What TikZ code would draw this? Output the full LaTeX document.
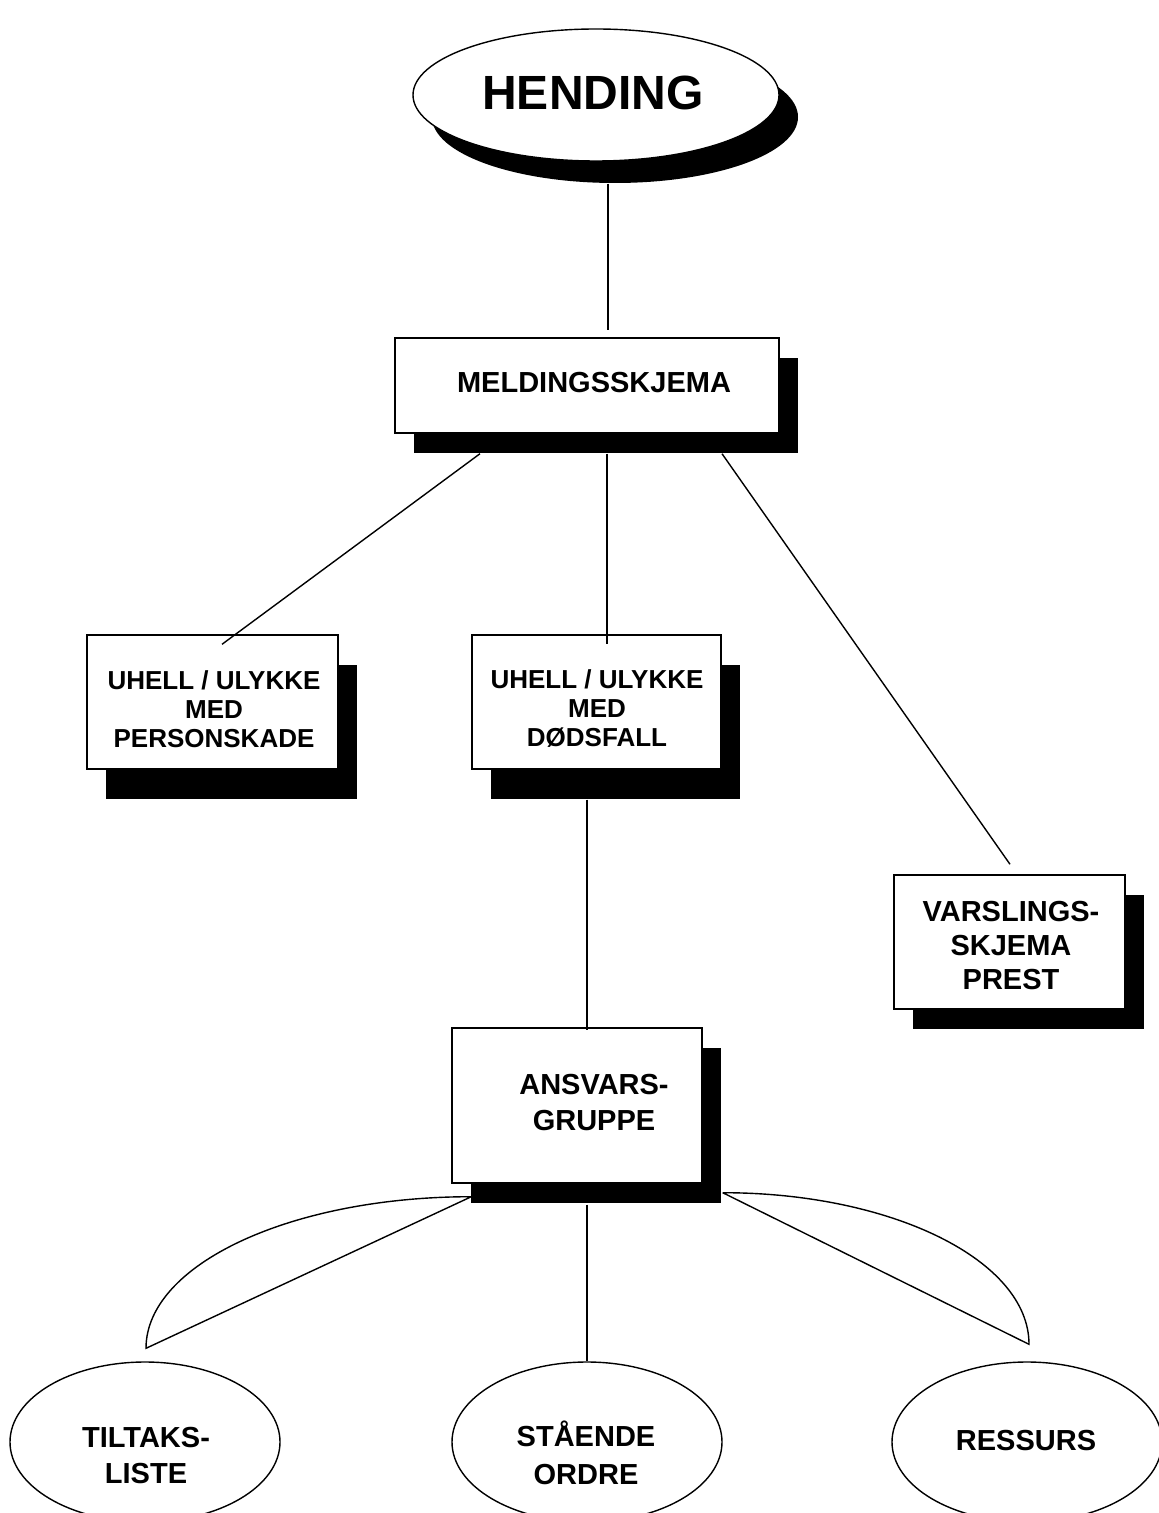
\documentclass[tikz,border=0pt]{standalone}
\usepackage{fontspec}
\setmainfont{Liberation Sans}
\usetikzlibrary{shapes.geometric,shadows,calc}
\tikzset{
  every picture/.style={line width=0.7pt},
  sh/.style={drop shadow={shadow xshift=9.5pt,shadow yshift=-#1,fill=black,opacity=1}},
  box/.style={rectangle,draw,fill=white,inner sep=0pt},
  hd/.style={ellipse,draw,fill=white,inner sep=0pt,minimum width=183pt,minimum height=66pt},
  bub/.style={ellipse,draw,fill=white,inner sep=0pt,minimum width=135pt,minimum height=80pt},
  tx/.style={align=center,inner sep=0pt,font=\bfseries\fontsize{14.5}{#1}\selectfont},
  tx/.default=17.5pt,
  sm/.style={align=center,inner sep=0pt,font=\bfseries\fontsize{13}{14.5}\selectfont},
}
\begin{document}
\begin{tikzpicture}[x=0.5pt,y=-0.5pt]
\useasboundingbox (0,0) rectangle (1158,1513);
% shapes
\node[hd,sh=11pt] (hend) at (596,95) {};
\node[box,sh=10pt,minimum width=192pt,minimum height=47.5pt] (meld) at (587,385.5) {};
\node[box,sh=15pt,minimum width=125.5pt,minimum height=67pt] (ulyk1) at (212.5,702) {};
\node[box,sh=15pt,minimum width=124.5pt,minimum height=67pt] (ulyk2) at (596.5,702) {};
\node[box,sh=10pt,minimum width=115.5pt,minimum height=67pt] (vars) at (1009.5,942) {};
\node[box,sh=10pt,minimum width=125pt,minimum height=77.5pt] (ansv) at (577,1105.5) {};
\node[bub] (tilt) at (145,1442) {};
\node[bub] (staa) at (587,1442) {};
\node[bub] (ress) at (1027,1442) {};
% texts
\node[inner sep=0pt,font=\bfseries\fontsize{24}{28}\selectfont] (hendT) at (593,93) {HENDING};
\node[tx] (meldT) at (594,383) {MELDINGSSKJEMA};
\node[sm] (ulyk1T) at (214,709) {UHELL / ULYKKE\\MED\\PERSONSKADE};
\node[sm] (ulyk2T) at (597,709) {UHELL / ULYKKE\\MED\\DØDSFALL};
\node[tx=17pt] (varsT) at (1011,946) {VARSLINGS-\\SKJEMA\\PREST};
\node[tx=18pt] (ansvT) at (594,1103) {ANSVARS-\\GRUPPE};
\node[tx=18pt] (tiltT) at (146,1455) {TILTAKS-\\LISTE};
\node[tx=19pt] (staaT) at (586,1453) {STÅENDE\\ORDRE};
\node[tx] (ressT) at (1026,1440) {RESSURS};
% connectors
\draw ($(hend.south)+(12,22)$) -- ($(meld.north)+(21,-7)$);
\draw ($(meld.south)+(-107,20)$) -- ($(ulyk1.north)+(9.5,10)$);
\draw ($(meld.south)+(20,20)$) -- ($(ulyk2.north)+(10.5,10)$);
\draw ($(meld.south)+(135,20)$) -- ($(vars.north)+(0.5,-10)$);
\draw ($(ulyk2.south)+(-9.5,30)$) -- ($(ansv.north)+(10,3)$);
\draw ($(ansv.south)+(10,21)$) -- (staa.north);
% side lobes
\coordinate (lA) at ($(ansv.south west)+(20,13)$);
\coordinate (lB) at ($(tilt.north)+(1,-13)$);
\draw (lA) -- (lB) .. controls ($(lB)+(0,-84)$) and ($(lA)+(-180,0)$) .. (lA);
\coordinate (rA) at ($(ansv.south east)+(20,9)$);
\coordinate (rB) at ($(ress.north)+(2,-17)$);
\draw (rA) -- (rB) .. controls ($(rB)+(0,-84)$) and ($(rA)+(169,0)$) .. (rA);
\end{tikzpicture}
\end{document}
